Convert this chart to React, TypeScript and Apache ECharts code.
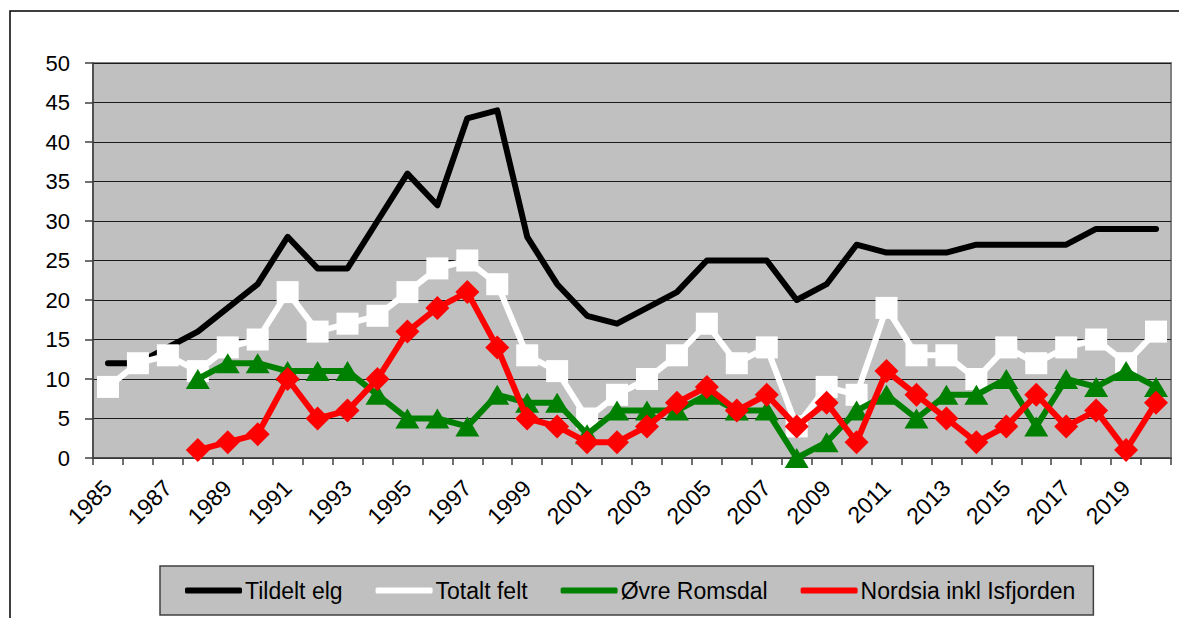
import React, { useEffect, useRef } from "react";
import * as echarts from "echarts";

const years = [
  "1985", "1986", "1987", "1988", "1989", "1990", "1991", "1992", "1993", "1994",
  "1995", "1996", "1997", "1998", "1999", "2000", "2001", "2002", "2003", "2004",
  "2005", "2006", "2007", "2008", "2009", "2010", "2011", "2012", "2013", "2014",
  "2015", "2016", "2017", "2018", "2019", "2020",
];

const tildeltElg = [
  12, 12, 14, 16, 19, 22, 28, 24, 24, 30,
  36, 32, 43, 44, 28, 22, 18, 17, 19, 21,
  25, 25, 25, 20, 22, 27, 26, 26, 26, 27,
  27, 27, 27, 29, 29, 29,
];

const totaltFelt = [
  9, 12, 13, 11, 14, 15, 21, 16, 17, 18,
  21, 24, 25, 22, 13, 11, 5, 8, 10, 13,
  17, 12, 14, 4, 9, 8, 19, 13, 13, 10,
  14, 12, 14, 15, 12, 16,
];

const ovreRomsdal = [
  null, null, null, 10, 12, 12, 11, 11, 11, 8,
  5, 5, 4, 8, 7, 7, 3, 6, 6, 6,
  8, 6, 6, 0, 2, 6, 8, 5, 8, 8,
  10, 4, 10, 9, 11, 9,
];

const nordsia = [
  null, null, null, 1, 2, 3, 10, 5, 6, 10,
  16, 19, 21, 14, 5, 4, 2, 2, 4, 7,
  9, 6, 8, 4, 7, 2, 11, 8, 5, 2,
  4, 8, 4, 6, 1, 7,
];

const seriesNames = ["Tildelt elg", "Totalt felt", "Øvre Romsdal", "Nordsia inkl Isfjorden"];
const seriesColors = ["#000000", "#ffffff", "#008000", "#ff0000"];

const FONT = "'Liberation Sans', Arial, sans-serif";

export default function App() {
  const ref = useRef<HTMLDivElement>(null);

  useEffect(() => {
    if (!ref.current) return;
    const chart = echarts.init(ref.current, null, { renderer: "svg" });
    chart.setOption({
      animation: false,
      backgroundColor: "#ffffff",
      textStyle: { fontFamily: FONT },
      graphic: [
        {
          type: "rect",
          shape: { x: 10, y: 11, width: 1400, height: 900 },
          style: { fill: "none", stroke: "#000000", lineWidth: 1.5 },
          silent: true,
          z: 0,
        },
      ],
      grid: {
        left: 93,
        top: 63,
        width: 1078,
        height: 395,
        show: true,
        backgroundColor: "#c0c0c0",
        borderColor: "#808080",
        borderWidth: 2,
      },
      legend: {
        left: 160,
        top: 566,
        orient: "horizontal",
        backgroundColor: "#c0c0c0",
        borderColor: "#404040",
        borderWidth: 1.5,
        borderRadius: 0,
        padding: [13, 18, 13, 25],
        itemGap: 33,
        itemWidth: 57,
        itemHeight: 6,
        textStyle: { fontSize: 23, color: "#000", fontFamily: FONT, padding: [0, 0, 0, -2] },
        data: seriesNames.map((n, i) => ({
          name: n,
          icon: "roundRect",
          itemStyle: { color: seriesColors[i] },
        })),
      },
      xAxis: {
        type: "category",
        data: years,
        boundaryGap: true,
        axisLine: { lineStyle: { color: "#404040", width: 1.5 } },
        axisTick: { show: true, interval: 0, alignWithLabel: false, length: 7, lineStyle: { color: "#404040", width: 1.5 } },
        axisLabel: {
          interval: 1,
          rotate: 45,
          fontSize: 23,
          color: "#000",
          fontFamily: FONT,
          margin: 26,
        },
        splitLine: { show: false },
      },
      yAxis: {
        type: "value",
        min: 0,
        max: 50,
        interval: 5,
        axisLine: { show: true, lineStyle: { color: "#404040", width: 1.5 } },
        axisTick: { show: true, length: 8, lineStyle: { color: "#404040", width: 1.5 } },
        axisLabel: { fontSize: 22, color: "#000", fontFamily: FONT, margin: 23 },
        splitLine: { show: true, lineStyle: { color: "#1a1a1a", width: 1.2 } },
      },
      series: [
        {
          name: seriesNames[0],
          type: "line",
          data: tildeltElg,
          symbol: "none",
          z: 2,
          color: seriesColors[0],
          lineStyle: { color: seriesColors[0], width: 6, cap: "round", join: "round" },
        },
        {
          name: seriesNames[1],
          type: "line",
          data: totaltFelt,
          symbol: "rect",
          symbolSize: 22,
          showAllSymbol: true,
          z: 3,
          color: seriesColors[1],
          itemStyle: { color: seriesColors[1] },
          lineStyle: { color: seriesColors[1], width: 6, join: "round" },
        },
        {
          name: seriesNames[2],
          type: "line",
          data: ovreRomsdal,
          symbol: "triangle",
          symbolSize: [24, 20],
          showAllSymbol: true,
          z: 4,
          color: seriesColors[2],
          itemStyle: { color: seriesColors[2] },
          lineStyle: { color: seriesColors[2], width: 6, join: "round" },
        },
        {
          name: seriesNames[3],
          type: "line",
          data: nordsia,
          symbol: "diamond",
          symbolSize: 24,
          showAllSymbol: true,
          z: 5,
          color: seriesColors[3],
          itemStyle: { color: seriesColors[3] },
          lineStyle: { color: seriesColors[3], width: 6, join: "round" },
        },
      ],
    });
    return () => chart.dispose();
  }, []);

  return (
    <div
      ref={ref}
      style={{ position: "fixed", left: 0, top: 0, width: 1179, height: 618 }}
    />
  );
}
